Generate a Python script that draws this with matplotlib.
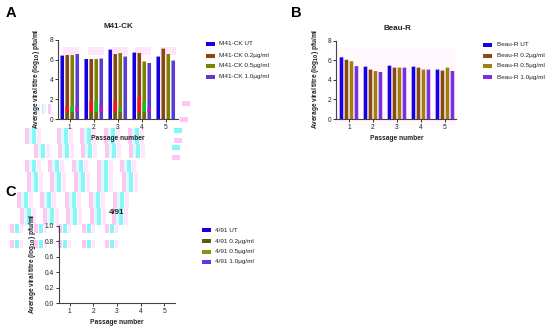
#!/usr/bin/env python3
"""Three panel viral titre figure, with the ghost stripes of the scanned original."""

import matplotlib
matplotlib.use("Agg")
import matplotlib.pyplot as plt
from matplotlib.patches import Rectangle
import numpy as np

plt.rcParams["font.family"] = ["Liberation Sans", "DejaVu Sans"]

W, H = 550, 332
PASSAGES = [1, 2, 3, 4, 5]
DOSES = ["UT", "0.2µg/ml", "0.5µg/ml", "1.0µg/ml"]

M41_UT = [6.4, 6.05, 7.0, 6.7, 6.3]
M41_02 = [6.45, 6.05, 6.55, 6.65, 7.1]
M41_05 = [6.45, 6.05, 6.65, 5.8, 6.55]
M41_10 = [6.55, 6.1, 6.3, 5.65, 5.9]

BEAU_UT = [6.3, 5.35, 5.45, 5.35, 5.05]
BEAU_02 = [6.05, 5.05, 5.25, 5.25, 4.95]
BEAU_05 = [5.9, 4.9, 5.25, 5.05, 5.25]
BEAU_10 = [5.4, 4.8, 5.25, 5.05, 4.9]

# tinted parts low down in the M41-CK bars (top of each tint)
M41_RED_TOP = [1.3, 1.8, 1.8, 2.2]
M41_GREEN_TOP = [1.3, 1.8, 1.0, 1.7]
M41_MAGENTA_TOP = [1.3, 1.4, 0.7, 1.1]

M41_COLORS = ["#1500e0", "#8c4412", "#7c8200", "#5a3cd2"]
BEAU_COLORS = ["#1500e6", "#8a4a12", "#a08010", "#7a2fe0"]
C_COLORS = ["#1500e0", "#5e5a10", "#8f8f10", "#6a2fe0"]

PINK = "#ffc8f4"
PALE_PINK = "#ffe6fa"
CYAN = "#86f6f6"
PALE_CYAN = "#dcfdfd"


def pixel_axes(fig, left, right, top, bottom):
    return fig.add_axes([left / W, 1 - bottom / H, (right - left) / W,
                         (bottom - top) / H], facecolor="none")


def style_axis(ax, ylim, yticks, ylabels, xlim):
    ax.set_xlim(*xlim)
    ax.set_ylim(*ylim)
    for side in ("top", "right"):
        ax.spines[side].set_visible(False)
    for side in ("left", "bottom"):
        ax.spines[side].set_color("#444444")
        ax.spines[side].set_linewidth(0.8)
    ax.set_xticks(PASSAGES, [str(p) for p in PASSAGES])
    ax.set_yticks(yticks, ylabels)
    ax.tick_params(length=2, width=0.7, pad=1.5, labelsize=4.8, color="#333333",
                   labelcolor="#222222")


def soft_bar(ax, x, height, color, bottom=0.0):
    for patch in ax.bar(x, height, 0.15, bottom=bottom, color=color, lw=0):
        patch.set_snap(False)


def draw_bars(ax, series, colors):
    x = np.asarray(PASSAGES, dtype=float)
    for offset, values, color in zip((-1.5, -0.5, 0.5, 1.5), series, colors):
        soft_bar(ax, x + offset * 0.208, values, color)


def draw_ghosts(bg):
    # rows of three stripe clusters left behind in the scan
    rows = (
        (128, 144, (25, 57, 80, 104, 128), 0),
        (144, 158, (33, 57, 80, 104, 128), 1),
        (160, 172, (25, 48, 72, 97, 120), 0),
        (172, 192, (27, 50, 74, 97, 122), 0),
        (192, 208, (17, 40, 65, 89, 113), 0),
        (208, 225, (20, 43, 66, 90, 112), 0),
    )
    for top, bottom, starts, shift in rows:
        for start in starts:
            start += shift
            bg.add_patch(Rectangle((start, top), 4, bottom - top, color=PINK, lw=0))
            bg.add_patch(Rectangle((start + 4, top), 3, bottom - top, color=PALE_CYAN, lw=0))
            bg.add_patch(Rectangle((start + 7, top), 4, bottom - top, color=CYAN, lw=0))
            bg.add_patch(Rectangle((start + 12, top), 4, bottom - top, color=PALE_PINK, lw=0))
    for top, bottom in ((224, 233), (240, 248)):
        for start in (10, 34, 58, 82, 105):
            bg.add_patch(Rectangle((start, top), 4, bottom - top, color=PINK, lw=0))
            bg.add_patch(Rectangle((start + 5, top), 4, bottom - top, color=CYAN, lw=0))
            bg.add_patch(Rectangle((start + 10, top), 3, bottom - top, color=PALE_PINK, lw=0))
    for start in (42, 48):
        bg.add_patch(Rectangle((start, 104), 3, 10, color=PINK, lw=0))
        bg.add_patch(Rectangle((start - 5, 104), 3, 10, color=PALE_CYAN, lw=0))
    # loose blocks right of panel A
    for left, top, color in ((182, 101, PINK), (180, 117, PINK), (174, 128, CYAN),
                             (174, 138, PINK), (172, 145, CYAN), (172, 155, PINK)):
        bg.add_patch(Rectangle((left, top), 8, 5, color=color, lw=0))
    # pale halos behind the bar tops
    for left in (63, 88, 112, 135, 160):
        bg.add_patch(Rectangle((left, 47), 16, 8, color=PALE_PINK, lw=0))
    bg.add_patch(Rectangle((335, 48), 121, 78, color="#fff8fd", lw=0))


def draw_legend(bg, left, text_x, ys, name, colors):
    for y, dose, color in zip(ys, DOSES, colors):
        bg.add_patch(Rectangle((left, y - 2.2), 9, 4.4, color=color, lw=0))
        bg.text(text_x, y, f"{name} {dose}", fontsize=4.6, va="center",
                ha="left", color="#222222")


def main():
    fig = plt.figure(figsize=(W / 100, H / 100), dpi=100, facecolor="white")
    bg = fig.add_axes([0, 0, 1, 1])
    bg.set_xlim(0, W)
    bg.set_ylim(H, 0)
    bg.axis("off")
    draw_ghosts(bg)

    ticks8 = [0, 2, 4, 6, 8]
    labels8 = [str(t) for t in ticks8]

    ax = pixel_axes(fig, 58, 178, 39.7, 119)
    draw_bars(ax, (M41_UT, M41_02, M41_05, M41_10), M41_COLORS)
    x = np.asarray(PASSAGES[:4], dtype=float)
    soft_bar(ax, x - 0.104, np.full(4, 0.7), "#6e5a10")
    soft_bar(ax, x + 0.104, np.full(4, 0.7), "#6e6a10")
    soft_bar(ax, x - 0.104, np.asarray(M41_RED_TOP) - 0.7, "#ff1020", bottom=0.7)
    soft_bar(ax, x + 0.104, np.asarray(M41_GREEN_TOP) - 0.7, "#10c030", bottom=0.7)
    soft_bar(ax, x + 0.312, np.asarray(M41_MAGENTA_TOP) - 0.7, "#b020c0", bottom=0.7)
    style_axis(ax, (0, 8), ticks8, labels8, (0.51, 5.51))

    ax = pixel_axes(fig, 336, 456, 40.7, 119)
    draw_bars(ax, (BEAU_UT, BEAU_02, BEAU_05, BEAU_10), BEAU_COLORS)
    style_axis(ax, (0, 8), ticks8, labels8, (0.46, 5.46))

    ax = pixel_axes(fig, 58.7, 175, 226, 303.3)
    style_axis(ax, (0, 1), [0, 0.2, 0.4, 0.6, 0.8, 1.0],
               ["0.0", "0.2", "0.4", "0.6", "0.8", "1.0"], (0.53, 5.46))
    # the two top ticks of this axis carry the red tint of the scan
    for tick in ax.yaxis.get_major_ticks()[-2:]:
        tick.tick1line.set_color("#ff2060")

    draw_legend(bg, 206, 219, (43.7, 55.7, 65.7, 76.7), "M41-CK", M41_COLORS)
    draw_legend(bg, 483, 497, (44.7, 55.7, 66, 77), "Beau-R", BEAU_COLORS)
    draw_legend(bg, 202, 215, (230, 241, 251.7, 262), "4/91", C_COLORS)

    for x0, y0, letter in ((11, 13, "A"), (296, 13, "B"), (11, 192, "C")):
        bg.text(x0, y0, letter, fontsize=10.5, fontweight="bold", ha="center", va="center")
    for x0, y0, title in ((118, 27, "M41-CK"), (397, 28, "Beau-R"), (116.7, 213, "4/91")):
        bg.text(x0, y0, title, fontsize=5.8, fontweight="bold", ha="center", va="center",
                color="#222222")
    for x0, y0 in ((118, 138), (397, 138), (116.7, 322.5)):
        bg.text(x0, y0, "Passage number", fontsize=4.8, fontweight="bold", ha="center",
                va="center", color="#222222")
    ylabel = "Average viral titre (log$_{\\mathbf{10}}$) pfu/ml"
    for x0, y0 in ((36.7, 79), (315.7, 79), (32, 264)):
        bg.text(x0, y0, ylabel, fontsize=4.7, fontweight="bold", rotation=90,
                ha="center", va="center", color="#222222")

    fig.savefig("out.png", dpi=100, facecolor="white")
    plt.close(fig)


if __name__ == "__main__":
    main()
